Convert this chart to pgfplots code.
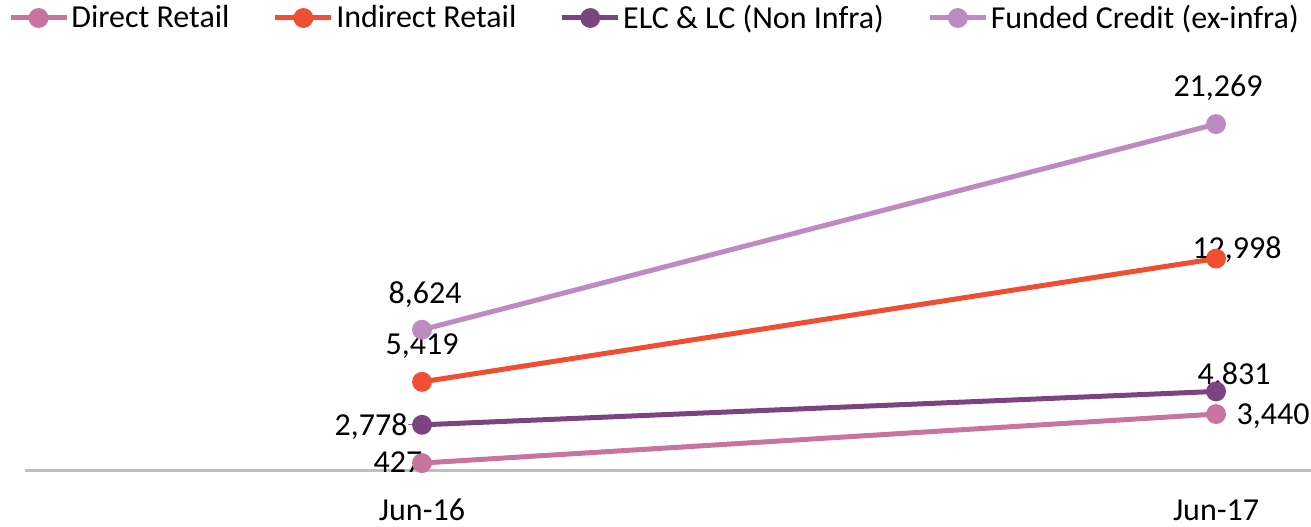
\documentclass[border=0pt]{standalone}
\usepackage{pgfplots}
\pgfplotsset{compat=1.18}
\usepackage{fontspec}
\setmainfont{Carlito}
\definecolor{cDirect}{HTML}{C8749F}
\definecolor{cIndirect}{HTML}{F04E32}
\definecolor{cELC}{HTML}{7B4480}
\definecolor{cFunded}{HTML}{BD8BC2}
\definecolor{axgray}{HTML}{BFBFBF}
\begin{document}
\begin{tikzpicture}
\useasboundingbox (0,0) rectangle (655.5pt,263pt);
\begin{axis}[
  at={(12.5pt,28pt)}, anchor=south west,
  scale only axis, width=643pt, height=203.3pt,
  xmin=-0.5, xmax=1.1196, ymin=0, ymax=25000,
  enlargelimits=false, clip=false,
  axis x line=bottom, axis y line=none,
  x axis line style={draw=axgray, line width=1.5pt, -},
  xtick={0,1}, xticklabels={Jun-16,Jun-17},
  major tick length=0pt,
  xticklabel style={anchor=center, yshift=-20pt, font=\fontsize{16}{19}\selectfont},
  legend columns=4,
  legend style={draw=none, fill=none, at={(rel axis cs:-0.0135,1.1117)}, anchor=west,
    inner sep=0pt, font=\fontsize{16}{19}\selectfont,
    /tikz/every even column/.append style={column sep=20.5pt},
    nodes={inner sep=1.2pt}},
  legend image code/.code={\draw[mark repeat=2,mark phase=2,#1] plot coordinates {(0pt,0pt) (14pt,0pt) (28pt,0pt)};},
  every axis plot/.append style={line width=2.5pt, mark=*, mark size=3.7pt},
]
\addplot[color=cDirect, mark options={fill=cDirect, draw=cDirect}] coordinates {(0,427) (1,3440)};
\addlegendentry{Direct Retail}
\addplot[color=cIndirect, mark options={fill=cIndirect, draw=cIndirect}] coordinates {(0,5419) (1,12998)};
\addlegendentry{Indirect Retail}
\addplot[color=cELC, mark options={fill=cELC, draw=cELC}] coordinates {(0,2778) (1,4831)};
\addlegendentry{ELC \& LC (Non Infra)}
\addplot[color=cFunded, mark options={fill=cFunded, draw=cFunded}] coordinates {(0,8624) (1,21269)};
\addlegendentry{Funded Credit (ex-infra)}

\begin{scope}[every node/.style={font=\fontsize{16}{19}\selectfont, anchor=center, text depth=0pt, inner sep=0pt}]
\node[xshift=1.5pt, yshift=18.5pt] at (axis cs:0,8624) {8,624};
\node[yshift=19pt] at (axis cs:0,5419) {5,419};
\node[xshift=-25.5pt] at (axis cs:0,2778) {2,778};
\node[xshift=-12pt, yshift=0.5pt] at (axis cs:0,427) {427};
\node[xshift=1pt, yshift=19pt] at (axis cs:1,21269) {21,269};
\node[xshift=10.5pt, yshift=5.5pt] at (axis cs:1,12998) {12,998};
\node[xshift=9pt, yshift=9pt] at (axis cs:1,4831) {4,831};
\node[xshift=28.5pt] at (axis cs:1,3440) {3,440};
\end{scope}
\draw[gray, line width=0.5pt] ([xshift=-7pt]axis cs:0,2778) -- ([xshift=-2pt]axis cs:0,2778);
\end{axis}
\end{tikzpicture}
\end{document}
